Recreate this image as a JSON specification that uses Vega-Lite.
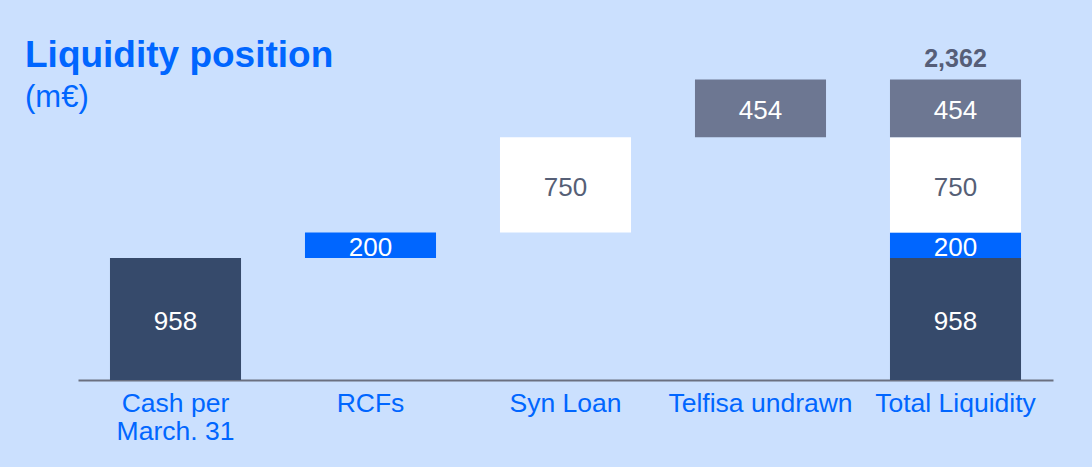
{
  "$schema": "https://vega.github.io/schema/vega-lite/v6.json",
  "width": 975,
  "height": 350,
  "autosize": {"type": "none"},
  "padding": {"left": 78, "top": 30, "right": 39, "bottom": 87},
  "background": "#cbe0fe",
  "title": {
    "text": "Liquidity position",
    "subtitle": "(m€)",
    "anchor": "start",
    "frame": "group",
    "dx": -53,
    "offset": -84,
    "font": "Liberation Sans",
    "fontSize": 37,
    "fontWeight": "bold",
    "color": "#0066ff",
    "subtitleFont": "Liberation Sans",
    "subtitleFontSize": 31,
    "subtitleColor": "#0066ff",
    "subtitlePadding": 8
  },
  "config": {
    "view": {"stroke": null},
    "font": "Liberation Sans"
  },
  "datasets": {
    "bars": [
      {"category": "Cash per March. 31", "component": "Cash", "start": 0, "end": 958, "value": 958},
      {"category": "RCFs", "component": "RCFs", "start": 958, "end": 1158, "value": 200},
      {"category": "Syn Loan", "component": "Syn Loan", "start": 1158, "end": 1908, "value": 750},
      {"category": "Telfisa undrawn", "component": "Telfisa", "start": 1908, "end": 2362, "value": 454},
      {"category": "Total Liquidity", "component": "Cash", "start": 0, "end": 958, "value": 958},
      {"category": "Total Liquidity", "component": "RCFs", "start": 958, "end": 1158, "value": 200},
      {"category": "Total Liquidity", "component": "Syn Loan", "start": 1158, "end": 1908, "value": 750},
      {"category": "Total Liquidity", "component": "Telfisa", "start": 1908, "end": 2362, "value": 454}
    ],
    "total": [
      {"category": "Total Liquidity", "total": 2362}
    ]
  },
  "encoding": {
    "x": {
      "field": "category",
      "type": "nominal",
      "sort": ["Cash per March. 31", "RCFs", "Syn Loan", "Telfisa undrawn", "Total Liquidity"],
      "scale": {"paddingInner": 0.328, "paddingOuter": 0.164},
      "axis": {
        "title": null,
        "ticks": false,
        "labelAngle": 0,
        "labelFontSize": 26.5,
        "labelColor": "#0066ff",
        "labelPadding": 10,
        "labelLineHeight": 28,
        "labelLimit": 0,
        "labelFont": "Liberation Sans",
        "domainColor": "#6b7080",
        "domainWidth": 2,
        "labelExpr": "datum.label == 'Cash per March. 31' ? ['Cash per', 'March. 31'] : datum.label"
      }
    }
  },
  "layer": [
    {
      "data": {"name": "bars"},
      "mark": {"type": "bar"},
      "encoding": {
        "y": {"field": "start", "type": "quantitative", "scale": {"domain": [0, 2750]}, "axis": null},
        "y2": {"field": "end"},
        "color": {
          "field": "component",
          "type": "nominal",
          "scale": {"domain": ["Cash", "RCFs", "Syn Loan", "Telfisa"], "range": ["#364a6b", "#0066ff", "#ffffff", "#6d7792"]},
          "legend": null
        }
      }
    },
    {
      "data": {"name": "bars"},
      "transform": [{"calculate": "(datum.start + datum.end) / 2", "as": "mid"}],
      "mark": {"type": "text", "fontSize": 26, "baseline": "middle", "dy": 3, "font": "Liberation Sans"},
      "encoding": {
        "y": {"field": "mid", "type": "quantitative", "scale": {"domain": [0, 2750]}},
        "text": {"field": "value", "type": "quantitative", "format": ","},
        "color": {"condition": {"test": "datum.component === 'Syn Loan'", "value": "#565f76"}, "value": "#ffffff"}
      }
    },
    {
      "data": {"name": "total"},
      "mark": {"type": "text", "fontSize": 25, "fontWeight": "bold", "baseline": "alphabetic", "dy": -12, "color": "#565e78", "font": "Liberation Sans"},
      "encoding": {
        "y": {"field": "total", "type": "quantitative", "scale": {"domain": [0, 2750]}},
        "text": {"field": "total", "type": "quantitative", "format": ","}
      }
    }
  ]
}
